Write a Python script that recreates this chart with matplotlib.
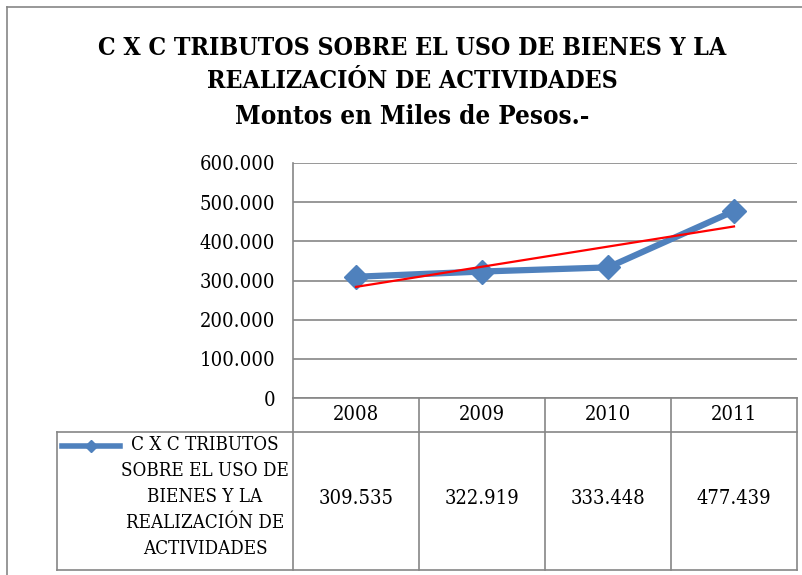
import matplotlib.pyplot as plt
import numpy as np
from matplotlib.lines import Line2D

years = ['2008', '2009', '2010', '2011']
values = [309.535, 322.919, 333.448, 477.439]
value_labels = ['309.535', '322.919', '333.448', '477.439']
serie = ['C X C TRIBUTOS', 'SOBRE EL USO DE', 'BIENES Y LA', 'REALIZACIÓN DE', 'ACTIVIDADES']
yticks = [0, 100, 200, 300, 400, 500, 600]
ytick_labels = ['0', '100.000', '200.000', '300.000', '400.000', '500.000', '600.000']
title_lines = ['C X C TRIBUTOS SOBRE EL USO DE BIENES Y LA', 'REALIZACIÓN DE ACTIVIDADES', 'Montos en Miles de Pesos.-']

W, H = 803, 575
plt.rcParams['font.family'] = ['DejaVu Serif']
plt.rcParams['font.stretch'] = 'condensed'
grey = '#868686'
blue = '#4f81bd'

fig = plt.figure(figsize=(W / 100, H / 100), dpi=100)


def fx(x):
    return x / W


def fy(y):
    return 1 - y / H


# outer chart border (cut off at right / bottom)
fig.add_artist(Line2D([fx(7), fx(7)], [fy(7), fy(575)], color=grey, lw=1.2))
fig.add_artist(Line2D([fx(7), fx(803)], [fy(7), fy(7)], color=grey, lw=1.2))

# title
tpos = [48, 81, 117]
tsize = [17.8, 17.8, 18.5]
for t, p, s in zip(title_lines, tpos, tsize):
    fig.text(0.5 * (100 + 725) / W, fy(p), t, ha='center', va='center',
             fontsize=s, fontweight='bold')

# plot area
left, right, top, bottom = 293, 797, 163, 398
ax = fig.add_axes([fx(left), fy(bottom), fx(right - left), (bottom - top) / H])
x = np.arange(len(years))
ax.plot(x, values, color=blue, lw=4.5, marker='D', markersize=12.5, zorder=3)
k, b = np.polyfit(x, values, 1)
ax.plot(x, k * x + b, color='#ff0000', lw=1.6, zorder=4)
ax.set_xlim(-0.5, len(years) - 0.5)
ax.set_ylim(0, 600)
ax.set_yticks(yticks)
ax.set_yticklabels(ytick_labels, fontsize=14.5)
ax.tick_params(axis='y', length=0, pad=13)
ax.set_xticks([])
ax.grid(axis='y', color=grey, lw=1.2)
ax.set_axisbelow(True)
for s in ['top', 'right', 'bottom']:
    ax.spines[s].set_visible(False)
ax.spines['left'].set_color(grey)
ax.spines['left'].set_linewidth(1.2)

# data table below the axis
unit = (right - left) / len(years)
tleft = 57
tab_bottom = 570
tab = fig.add_axes([fx(tleft), fy(tab_bottom), fx(right - tleft), (tab_bottom - bottom) / H])
tab.set_xlim(-0.5 - (left - tleft) / unit, len(years) - 0.5)
tab.set_ylim(tab_bottom, bottom)
tab.axis('off')
x0 = tab.get_xlim()[0]
row1 = 432
for i in range(len(years) + 1):
    tab.plot([i - 0.5, i - 0.5], [bottom, tab_bottom], color=grey, lw=1.2, clip_on=False)
tab.plot([-0.5, len(years) - 0.5], [bottom, bottom], color=grey, lw=1.2, clip_on=False)
tab.plot([x0, len(years) - 0.5], [row1, row1], color=grey, lw=1.2, clip_on=False)
tab.plot([x0, len(years) - 0.5], [tab_bottom, tab_bottom], color=grey, lw=1.2, clip_on=False)
tab.plot([x0, x0], [row1, tab_bottom], color=grey, lw=1.2, clip_on=False)
for i, (yr, v) in enumerate(zip(years, value_labels)):
    tab.text(i, 415, yr, ha='center', va='center', fontsize=14.5)
    tab.text(i, 498, v, ha='center', va='center', fontsize=14.5)

# legend key and series name
kx = x0 + 5 / unit
tab.plot([kx, kx + 58 / unit], [446, 446], color=blue, lw=4, clip_on=False)
tab.plot([kx + 29 / unit], [446], color=blue, marker='D', markersize=6, clip_on=False)
cx = x0 + (205 - tleft) / unit
for j, line in enumerate(serie):
    tab.text(cx, 445 + j * 26, line, ha='center', va='center', fontsize=13.5)

fig.savefig('out.png', dpi=100)
